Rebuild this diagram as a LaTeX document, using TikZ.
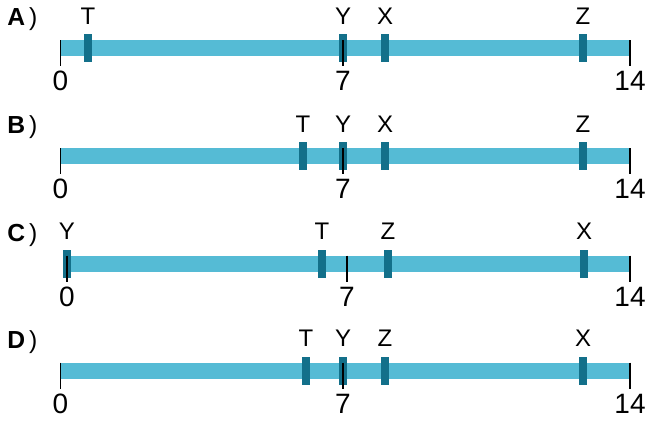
\documentclass[tikz,border=0pt]{standalone}
\usepackage{fontspec}
\setmainfont{Liberation Sans}
\definecolor{barc}{HTML}{55BBD5}
\definecolor{mk}{HTML}{13708A}
\begin{document}
\begin{tikzpicture}[x=0.75pt,y=-0.75pt,
 bar/.style={line width=12pt, draw=barc},
 marker/.style={fill=mk, draw=none, minimum width=6pt, minimum height=21pt, inner sep=0pt, rectangle},
 tickl/.style={draw=black, line width=1.1pt},
 lab/.style={font=\fontsize{18}{18}\selectfont, inner sep=0pt},
 num/.style={font=\fontsize{21}{21}\selectfont, inner sep=0pt},
 rowlab/.style={font=\fontsize{18.5}{18.5}\selectfont, inner sep=0pt, anchor=west}]
\useasboundingbox (0,0) rectangle (645,421);

% ---------- Row A ----------
\coordinate (a0) at (60.5,48); \coordinate (a7) at (343,48); \coordinate (a14) at (630,48);
\draw[bar] (a0) -- (a14);
\node[marker] (aT) at (88,48) {};
\node[marker] (aY) at (343,48) {};
\node[marker] (aX) at (385,48) {};
\node[marker] (aZ) at (583,48) {};
\draw[tickl] ([yshift=6pt]a0) -- ([yshift=-13.5pt]a0);
\draw[tickl] ([yshift=6pt]a7) -- ([yshift=-13.5pt]a7);
\draw[tickl] ([yshift=6pt]a14) -- ([yshift=-13.5pt]a14);
\node[lab] (aTl) at (88,16) {T};
\node[lab] (aYl) at (343,16) {Y};
\node[lab] (aXl) at (385,16) {X};
\node[lab] (aZl) at (583,16) {Z};
\node[num] (a0n) at (60.5,81) {0};
\node[num] (a7n) at (343,81) {7};
\node[num] (a14n) at (630,81) {14};
\node[rowlab] (aL) at (7,19.5) {\textbf{A}\,)};

% ---------- Row B ----------
\coordinate (b0) at (60.5,156); \coordinate (b7) at (343,156); \coordinate (b14) at (630,156);
\draw[bar] (b0) -- (b14);
\node[marker] (bT) at (303,156) {};
\node[marker] (bY) at (343,156) {};
\node[marker] (bX) at (385,156) {};
\node[marker] (bZ) at (583,156) {};
\draw[tickl] ([yshift=6pt]b0) -- ([yshift=-13.5pt]b0);
\draw[tickl] ([yshift=6pt]b7) -- ([yshift=-13.5pt]b7);
\draw[tickl] ([yshift=6pt]b14) -- ([yshift=-13.5pt]b14);
\node[lab] (bTl) at (303,124) {T};
\node[lab] (bYl) at (343,124) {Y};
\node[lab] (bXl) at (385,124) {X};
\node[lab] (bZl) at (583,124) {Z};
\node[num] (b0n) at (60.5,189) {0};
\node[num] (b7n) at (343,189) {7};
\node[num] (b14n) at (630,189) {14};
\node[rowlab] (bL) at (7,127.5) {\textbf{B}\,)};

% ---------- Row C ----------
\coordinate (c0) at (67,263.7); \coordinate (c7) at (347,263.7); \coordinate (c14) at (630,263.7);
\draw[bar] (c0) -- (c14);
\node[marker] (cY) at (67,263.7) {};
\node[marker] (cT) at (322,263.7) {};
\node[marker] (cZ) at (388,263.7) {};
\node[marker] (cX) at (584,263.7) {};
\draw[tickl] ([yshift=6pt]c0) -- ([yshift=-13.5pt]c0);
\draw[tickl] ([yshift=6pt]c7) -- ([yshift=-13.5pt]c7);
\draw[tickl] ([yshift=6pt]c14) -- ([yshift=-13.5pt]c14);
\node[lab] (cYl) at (67,231.5) {Y};
\node[lab] (cTl) at (322,231.5) {T};
\node[lab] (cZl) at (388,231.5) {Z};
\node[lab] (cXl) at (584,231.5) {X};
\node[num] (c0n) at (67,296.7) {0};
\node[num] (c7n) at (347,296.7) {7};
\node[num] (c14n) at (630,296.7) {14};
\node[rowlab] (cL) at (7,235) {\textbf{C}\,)};

% ---------- Row D ----------
\coordinate (d0) at (60.5,370.7); \coordinate (d7) at (343,370.7); \coordinate (d14) at (630,370.7);
\draw[bar] (d0) -- (d14);
\node[marker] (dT) at (306,370.7) {};
\node[marker] (dY) at (343,370.7) {};
\node[marker] (dZ) at (385,370.7) {};
\node[marker] (dX) at (583,370.7) {};
\draw[tickl] ([yshift=6pt]d0) -- ([yshift=-13.5pt]d0);
\draw[tickl] ([yshift=6pt]d7) -- ([yshift=-13.5pt]d7);
\draw[tickl] ([yshift=6pt]d14) -- ([yshift=-13.5pt]d14);
\node[lab] (dTl) at (306,338.5) {T};
\node[lab] (dYl) at (343,338.5) {Y};
\node[lab] (dZl) at (385,338.5) {Z};
\node[lab] (dXl) at (583,338.5) {X};
\node[num] (d0n) at (60.5,403.7) {0};
\node[num] (d7n) at (343,403.7) {7};
\node[num] (d14n) at (630,403.7) {14};
\node[rowlab] (dL) at (7,342) {\textbf{D}\,)};
\end{tikzpicture}
\end{document}
